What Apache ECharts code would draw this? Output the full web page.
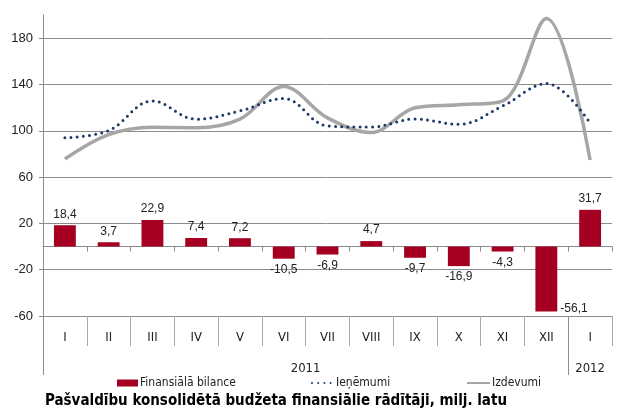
<!DOCTYPE html>
<html>
<head>
<meta charset="utf-8">
<script src="https://cdn.jsdelivr.net/npm/echarts@6/dist/echarts.min.js"></script>
<style>
html, body { margin: 0; padding: 0; background: #fff; }
#chart { width: 620px; height: 412px; }
</style>
</head>
<body>
<div id="chart"></div>
<script>
var months = ['I', 'II', 'III', 'IV', 'V', 'VI', 'VII', 'VIII', 'IX', 'X', 'XI', 'XII', 'I'];
var years = ['2011', '2012'];
var monthsInYear = [12, 1];
var bilance = [18.4, 3.7, 22.9, 7.4, 7.2, -10.5, -6.9, 4.7, -9.7, -16.9, -4.3, -56.1, 31.7];
var ienemumi = [93.9, 100.2, 125.8, 110.0, 117.2, 127.8, 104.2, 103.2, 110.2, 105.6, 121.4, 140.8, 106.5];
var izdevumi = [75.6, 96.6, 103.0, 102.6, 110.0, 138.2, 111.1, 98.5, 119.9, 122.5, 125.7, 196.9, 74.8];

var dom = document.getElementById('chart');
var myChart = echarts.init(dom);

var narrow = '"Liberation Sans Narrow", "DejaVu Sans Condensed", sans-serif';
var regular = '"Liberation Sans", Arial, sans-serif';
var gridColor = '#8c8c8c';

// year row: half-slot category axis, labels in the middle of each year, ticks at year borders
var yearSlots = [];
var yearBorders = {};
var start = 0;
for (var i = 0; i <= months.length * 2; i++) yearSlots.push('');
for (var y = 0; y < years.length; y++) {
    yearSlots[start * 2 + monthsInYear[y]] = years[y];
    yearBorders[start * 2] = true;
    start += monthsInYear[y];
}

function fmt(v) {
    return v.toFixed(1).replace('.', ',');
}

var barData = bilance.map(function (v) {
    var item = { value: v, label: { position: v >= 0 ? 'top' : 'bottom' } };
    if (v < -40) {
        item.label = { position: 'right', distance: 3, offset: [0, 30] };
    }
    return item;
});

var legendText = { fontFamily: narrow, fontSize: 12, color: '#222', padding: [0, 0, 0, -3] };

var option = {
    animation: false,
    textStyle: { fontFamily: narrow },
    title: {
        text: 'Pašvaldību konsolidētā budžeta finansiālie rādītāji, milj. latu',
        left: 45,
        top: 394,
        padding: 0,
        textStyle: { fontFamily: narrow, fontSize: 15, fontWeight: 'bold', color: '#000' }
    },
    legend: [
        { data: ['Finansiālā bilance'], left: 117, top: 377, padding: 0, icon: 'rect', itemWidth: 21, itemHeight: 7,
          textStyle: legendText },
        { data: ['Ieņēmumi'], left: 311, top: 377, padding: 0, itemWidth: 22, itemHeight: 7,
          itemStyle: { opacity: 0 }, textStyle: legendText },
        { data: ['Izdevumi'], left: 466, top: 377, padding: 0, itemWidth: 23, itemHeight: 7,
          itemStyle: { opacity: 0 }, textStyle: legendText }
    ],
    grid: { left: 43, right: 8, top: 15, bottom: 96 },
    xAxis: [
        {
            type: 'category',
            data: months,
            position: 'bottom',
            axisLine: { onZero: true, lineStyle: { color: gridColor } },
            axisTick: { show: true, length: 5, lineStyle: { color: gridColor } },
            axisLabel: { show: false }
        },
        {
            type: 'category',
            data: months,
            position: 'bottom',
            axisLine: { onZero: false, lineStyle: { color: gridColor } },
            axisTick: { show: true, length: 30, lineStyle: { color: '#aaa' } },
            axisLabel: { margin: 15, fontFamily: narrow, fontSize: 13, color: '#222' }
        },
        {
            type: 'category',
            data: yearSlots,
            position: 'bottom',
            boundaryGap: false,
            axisLine: { show: false, onZero: false },
            axisTick: {
                show: true, length: 59, lineStyle: { color: gridColor },
                interval: function (idx) { return !!yearBorders[idx]; }
            },
            axisLabel: { interval: 0, margin: 46, fontFamily: narrow, fontSize: 13, color: '#222' }
        }
    ],
    yAxis: {
        type: 'value',
        min: -60,
        max: 200,
        interval: 40,
        axisLine: { show: true, lineStyle: { color: gridColor } },
        axisTick: { show: true, length: 4, lineStyle: { color: gridColor } },
        axisLabel: { showMaxLabel: false, margin: 10, fontFamily: regular, fontSize: 13, color: '#222' },
        splitLine: { show: true, showMaxLine: false, lineStyle: { color: gridColor } }
    },
    series: [
        {
            name: 'Finansiālā bilance',
            type: 'bar',
            data: barData,
            barWidth: '50%',
            itemStyle: { color: '#a50021' },
            label: {
                show: true,
                distance: 5,
                fontFamily: regular,
                fontSize: 12,
                color: '#222',
                formatter: function (p) { return fmt(p.value); }
            }
        },
        {
            name: 'Ieņēmumi',
            type: 'line',
            data: ienemumi,
            smooth: 0.38,
            symbol: 'none',
            lineStyle: { color: '#1b3a66', width: 3, type: [0, 6.2], cap: 'round' },
            itemStyle: { color: '#1b3a66' },
            z: 4
        },
        {
            name: 'Izdevumi',
            type: 'line',
            data: izdevumi,
            smooth: 0.35,
            symbol: 'none',
            lineStyle: { color: '#a6a6a6', width: 3.5 },
            itemStyle: { color: '#a6a6a6' },
            z: 3
        }
    ]
};

if (option && typeof option === 'object') {
    myChart.setOption(option, true);
}
</script>
</body>
</html>
